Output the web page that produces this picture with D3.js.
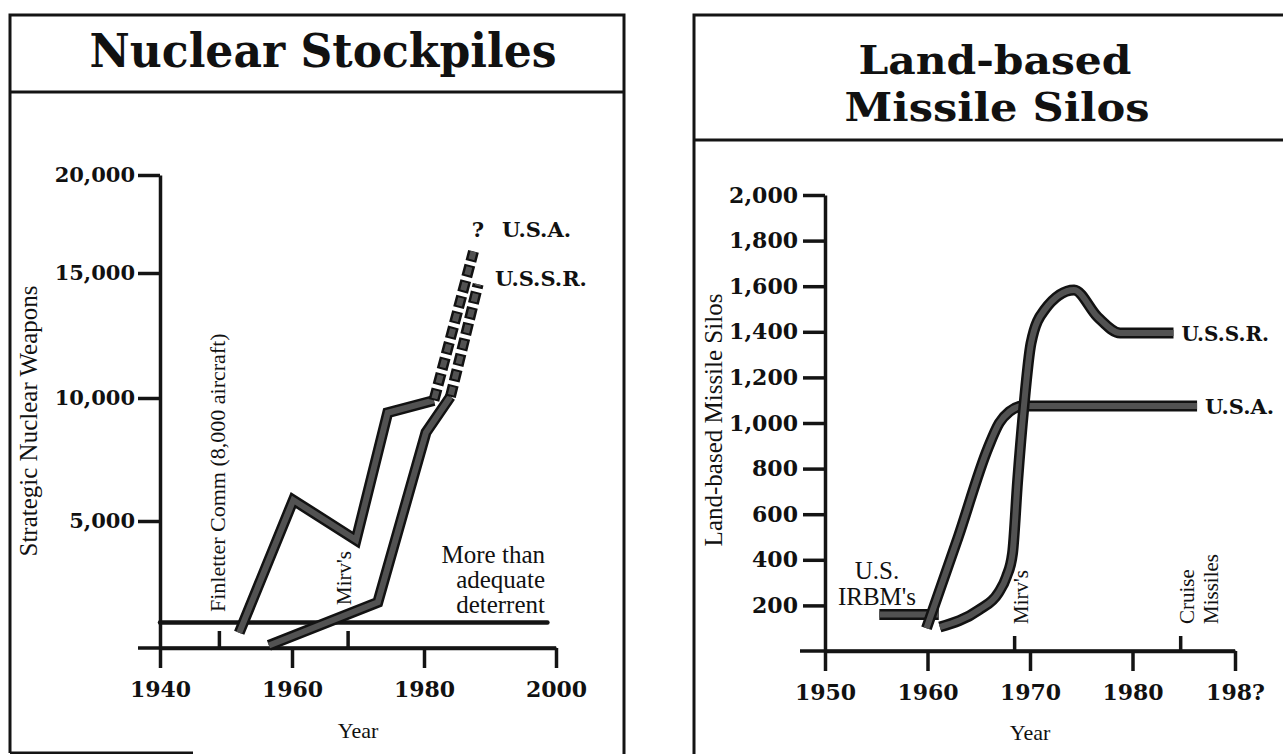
<!DOCTYPE html>
<html>
<head>
<meta charset="utf-8">
<script src="https://cdn.jsdelivr.net/npm/d3@7"></script>
<style>
  body { margin: 0; background: #fff; }
  svg { display: block; }
  .num { font-family: "DejaVu Serif", serif; font-weight: bold; fill: #111; }
  .lbl { font-family: "Liberation Serif", "Times New Roman", serif; fill: #111; }
</style>
</head>
<body>
<svg id="chart" width="1283" height="754"></svg>
<script>
// ---------- Nuclear Stockpiles (left) ----------
var stockYTicks = [5000, 10000, 15000, 20000];
var stockXTicks = [1940, 1960, 1980, 2000];
var usaStock = [[1952, 600], [1960.2, 5850], [1969.7, 4250], [1974.5, 9400], [1981.5, 9900]];
var usaStockProjected = [[1981.5, 9900], [1987.5, 16100]];
var ussrStock = [[1956.5, 100], [1973, 1800], [1980.3, 8600], [1984, 10050]];
var ussrStockProjected = [[1984, 10050], [1988.2, 14550]];
var deterrent = [[1940, 1000], [1998.7, 1000]];
var stockEvents = [{year: 1949, label: "Finletter Comm (8,000 aircraft)"}, {year: 1968.5, label: "Mirv's"}];

// ---------- Land-based Missile Silos (right) ----------
var siloYTicks = [200, 400, 600, 800, 1000, 1200, 1400, 1600, 1800, 2000];
var siloXTicks = [1950, 1960, 1970, 1980, 1990];
var siloXLabels = ["1950", "1960", "1970", "1980", "198?"];
var usIrbm = [[1955.3, 160], [1961.1, 160]];
var usaSilos = [[1959.9, 100], [1963, 500], [1965.9, 890], [1967, 1000], [1968, 1050], [1969.3, 1075], [1986.3, 1075]];
var ussrSilos = [[1961.2, 105], [1965, 180], [1966.9, 254], [1967.7, 325], [1968.3, 430], [1968.8, 750], [1969.4, 1070],
                 [1970.1, 1350], [1971.4, 1495], [1974.3, 1583], [1976.6, 1465], [1978.8, 1395], [1984, 1395]];
var siloEvents = [{year: 1968.5, lines: ["Mirv's"]}, {year: 1984.7, lines: ["Cruise", "Missiles"]}];

var svg = d3.select("#chart");
svg.append("rect").attr("width", 1283).attr("height", 754).attr("fill", "#fff");

var ink = "#141414";

// panel frames
var frames = svg.append("g").attr("fill", "none").attr("stroke", ink).attr("stroke-width", 3);
frames.append("path").attr("d", "M10,753 V15 H624 V754");
frames.append("path").attr("d", "M10,92 H624");
frames.append("path").attr("d", "M10,753 H193");
frames.append("path").attr("d", "M694,754 V15 H1283");
frames.append("path").attr("d", "M694,140 H1283");

// titles
svg.append("text").attr("class", "num").attr("x", 323).attr("y", 67)
  .attr("text-anchor", "middle").attr("font-size", 46)
  .attr("textLength", 467).attr("lengthAdjust", "spacingAndGlyphs").text("Nuclear Stockpiles");
svg.append("text").attr("class", "num").attr("x", 995).attr("y", 74)
  .attr("text-anchor", "middle").attr("font-size", 40)
  .attr("textLength", 273).attr("lengthAdjust", "spacingAndGlyphs").text("Land-based");
svg.append("text").attr("class", "num").attr("x", 997).attr("y", 121)
  .attr("text-anchor", "middle").attr("font-size", 40)
  .attr("textLength", 305).attr("lengthAdjust", "spacingAndGlyphs").text("Missile Silos");

function thickLine(g, data, line, dashed) {
  g.append("path").datum(data).attr("d", line)
    .attr("fill", "none").attr("stroke", "#121212").attr("stroke-width", 11)
    .attr("stroke-dasharray", dashed ? "12,4" : null);
  g.append("path").datum(data).attr("d", line)
    .attr("fill", "none").attr("stroke", "#525252").attr("stroke-width", 6)
    .attr("stroke-dasharray", dashed ? "8,8" : null)
    .attr("stroke-dashoffset", dashed ? -2 : null);
}

function styleAxis(g, size) {
  g.selectAll(".domain, .tick line").attr("stroke", ink).attr("stroke-width", 3.5);
  g.selectAll("text").attr("class", "num").attr("font-size", size).attr("fill", ink);
  g.attr("font-family", null).attr("font-size", null);
}

// ================= left chart =================
var xL = d3.scaleLinear().domain([1940, 2000]).range([160, 556]);
var yL = d3.scaleLinear().domain([0, 5000, 10000, 15000, 20000]).range([648, 521, 398, 273, 175]);

var left = svg.append("g");

left.append("line").attr("x1", xL.range()[0] - 22).attr("x2", xL.range()[1])
  .attr("y1", yL(0)).attr("y2", yL(0)).attr("stroke", ink).attr("stroke-width", 3.5);

var gxL = left.append("g").attr("transform", "translate(0," + yL(0) + ")")
  .call(d3.axisBottom(xL).tickValues(stockXTicks).tickSize(20).tickSizeOuter(0).tickPadding(13).tickFormat(d3.format("d")));
styleAxis(gxL, 22);

var gyL = left.append("g").attr("transform", "translate(" + xL(1940) + ",0)")
  .call(d3.axisLeft(yL).tickValues(stockYTicks).tickSize(22).tickSizeOuter(0).tickPadding(3).tickFormat(d3.format(",")));
styleAxis(gyL, 21);

left.append("text").attr("class", "lbl").attr("font-size", 25)
  .attr("transform", "translate(37,421) rotate(-90)").attr("text-anchor", "middle")
  .text("Strategic Nuclear Weapons");
left.append("text").attr("class", "lbl").attr("font-size", 22)
  .attr("x", (xL.range()[0] + xL.range()[1]) / 2).attr("y", 738).attr("text-anchor", "middle").text("Year");

// deterrent line
var lineL = d3.line().x(function(d) { return xL(d[0]); }).y(function(d) { return yL(d[1]); });
left.append("path").datum(deterrent).attr("d", lineL)
  .attr("fill", "none").attr("stroke", ink).attr("stroke-width", 4.5).attr("stroke-linecap", "round");
left.selectAll(".det").data(["More than", "adequate", "deterrent"]).enter().append("text")
  .attr("class", "lbl").attr("font-size", 25).attr("text-anchor", "end")
  .attr("x", 545).attr("y", function(d, i) { return 563 + i * 25; }).text(function(d) { return d; });

// event markers
left.selectAll(".ev").data(stockEvents).enter().append("line")
  .attr("x1", function(d) { return xL(d.year); }).attr("x2", function(d) { return xL(d.year); })
  .attr("y1", yL(0)).attr("y2", yL(0) - 17).attr("stroke", ink).attr("stroke-width", 3.5);
left.append("text").attr("class", "lbl").attr("font-size", 22)
  .attr("transform", "translate(" + (xL(stockEvents[0].year) + 6) + ",612) rotate(-90)")
  .text(stockEvents[0].label);
left.append("text").attr("class", "lbl").attr("font-size", 21)
  .attr("transform", "translate(" + (xL(stockEvents[1].year) + 3) + ",605) rotate(-90)")
  .text(stockEvents[1].label);

// series
thickLine(left, usaStock, lineL, false);
thickLine(left, ussrStock, lineL, false);
thickLine(left, usaStockProjected, lineL, true);
thickLine(left, ussrStockProjected, lineL, true);

left.append("text").attr("class", "num").attr("font-size", 21).attr("x", 478).attr("y", 237)
  .attr("text-anchor", "middle").text("?");
left.append("text").attr("class", "num").attr("font-size", 21).attr("x", 502).attr("y", 237).text("U.S.A.");
left.append("text").attr("class", "num").attr("font-size", 21).attr("x", 495).attr("y", 286).text("U.S.S.R.");

// ================= right chart =================
var xR = d3.scaleLinear().domain([1950, 1990]).range([825, 1235]);
var yR = d3.scaleLinear().domain([0, 2000]).range([651, 195]);

var right = svg.append("g");

right.append("line").attr("x1", xR.range()[0] - 25).attr("x2", xR.range()[1])
  .attr("y1", yR(0)).attr("y2", yR(0)).attr("stroke", ink).attr("stroke-width", 3.5);

var gxR = right.append("g").attr("transform", "translate(0," + yR(0) + ")")
  .call(d3.axisBottom(xR).tickValues(siloXTicks).tickSize(20).tickSizeOuter(0).tickPadding(13)
    .tickFormat(function(d, i) { return siloXLabels[i]; }));
styleAxis(gxR, 22);

var gyR = right.append("g").attr("transform", "translate(" + xR(1950) + ",0)")
  .call(d3.axisLeft(yR).tickValues(siloYTicks).tickSize(22).tickSizeOuter(0).tickPadding(5).tickFormat(d3.format(",")));
styleAxis(gyR, 22);

right.append("text").attr("class", "lbl").attr("font-size", 25)
  .attr("transform", "translate(722,420) rotate(-90)").attr("text-anchor", "middle")
  .text("Land-based Missile Silos");
right.append("text").attr("class", "lbl").attr("font-size", 22)
  .attr("x", (xR.range()[0] + xR.range()[1]) / 2).attr("y", 740).attr("text-anchor", "middle").text("Year");

right.selectAll(".ev").data(siloEvents).enter().append("line")
  .attr("x1", function(d) { return xR(d.year); }).attr("x2", function(d) { return xR(d.year); })
  .attr("y1", yR(0)).attr("y2", yR(0) - 15).attr("stroke", ink).attr("stroke-width", 3.5);
siloEvents.forEach(function(ev) {
  ev.lines.forEach(function(t, i) {
    right.append("text").attr("class", "lbl").attr("font-size", 21)
      .attr("transform", "translate(" + (xR(ev.year) + 13 + i * 24) + ",624) rotate(-90)")
      .text(t);
  });
});

var lineR = d3.line().x(function(d) { return xR(d[0]); }).y(function(d) { return yR(d[1]); });
var curveR = d3.line().curve(d3.curveMonotoneX).x(function(d) { return xR(d[0]); }).y(function(d) { return yR(d[1]); });

thickLine(right, usIrbm, lineR, false);
thickLine(right, usaSilos, curveR, false);
thickLine(right, ussrSilos, curveR, false);

right.selectAll(".irbm").data(["U.S.", "IRBM's"]).enter().append("text")
  .attr("class", "lbl").attr("font-size", 25).attr("text-anchor", "middle")
  .attr("x", 877).attr("y", function(d, i) { return 579 + i * 26; }).text(function(d) { return d; });

right.append("text").attr("class", "num").attr("font-size", 21)
  .attr("x", xR(usaSilos[usaSilos.length - 1][0]) + 8).attr("y", yR(usaSilos[usaSilos.length - 1][1]) + 8).text("U.S.A.");
right.append("text").attr("class", "num").attr("font-size", 20)
  .attr("x", xR(ussrSilos[ussrSilos.length - 1][0]) + 8).attr("y", yR(ussrSilos[ussrSilos.length - 1][1]) + 8).text("U.S.S.R.");
</script>
</body>
</html>
